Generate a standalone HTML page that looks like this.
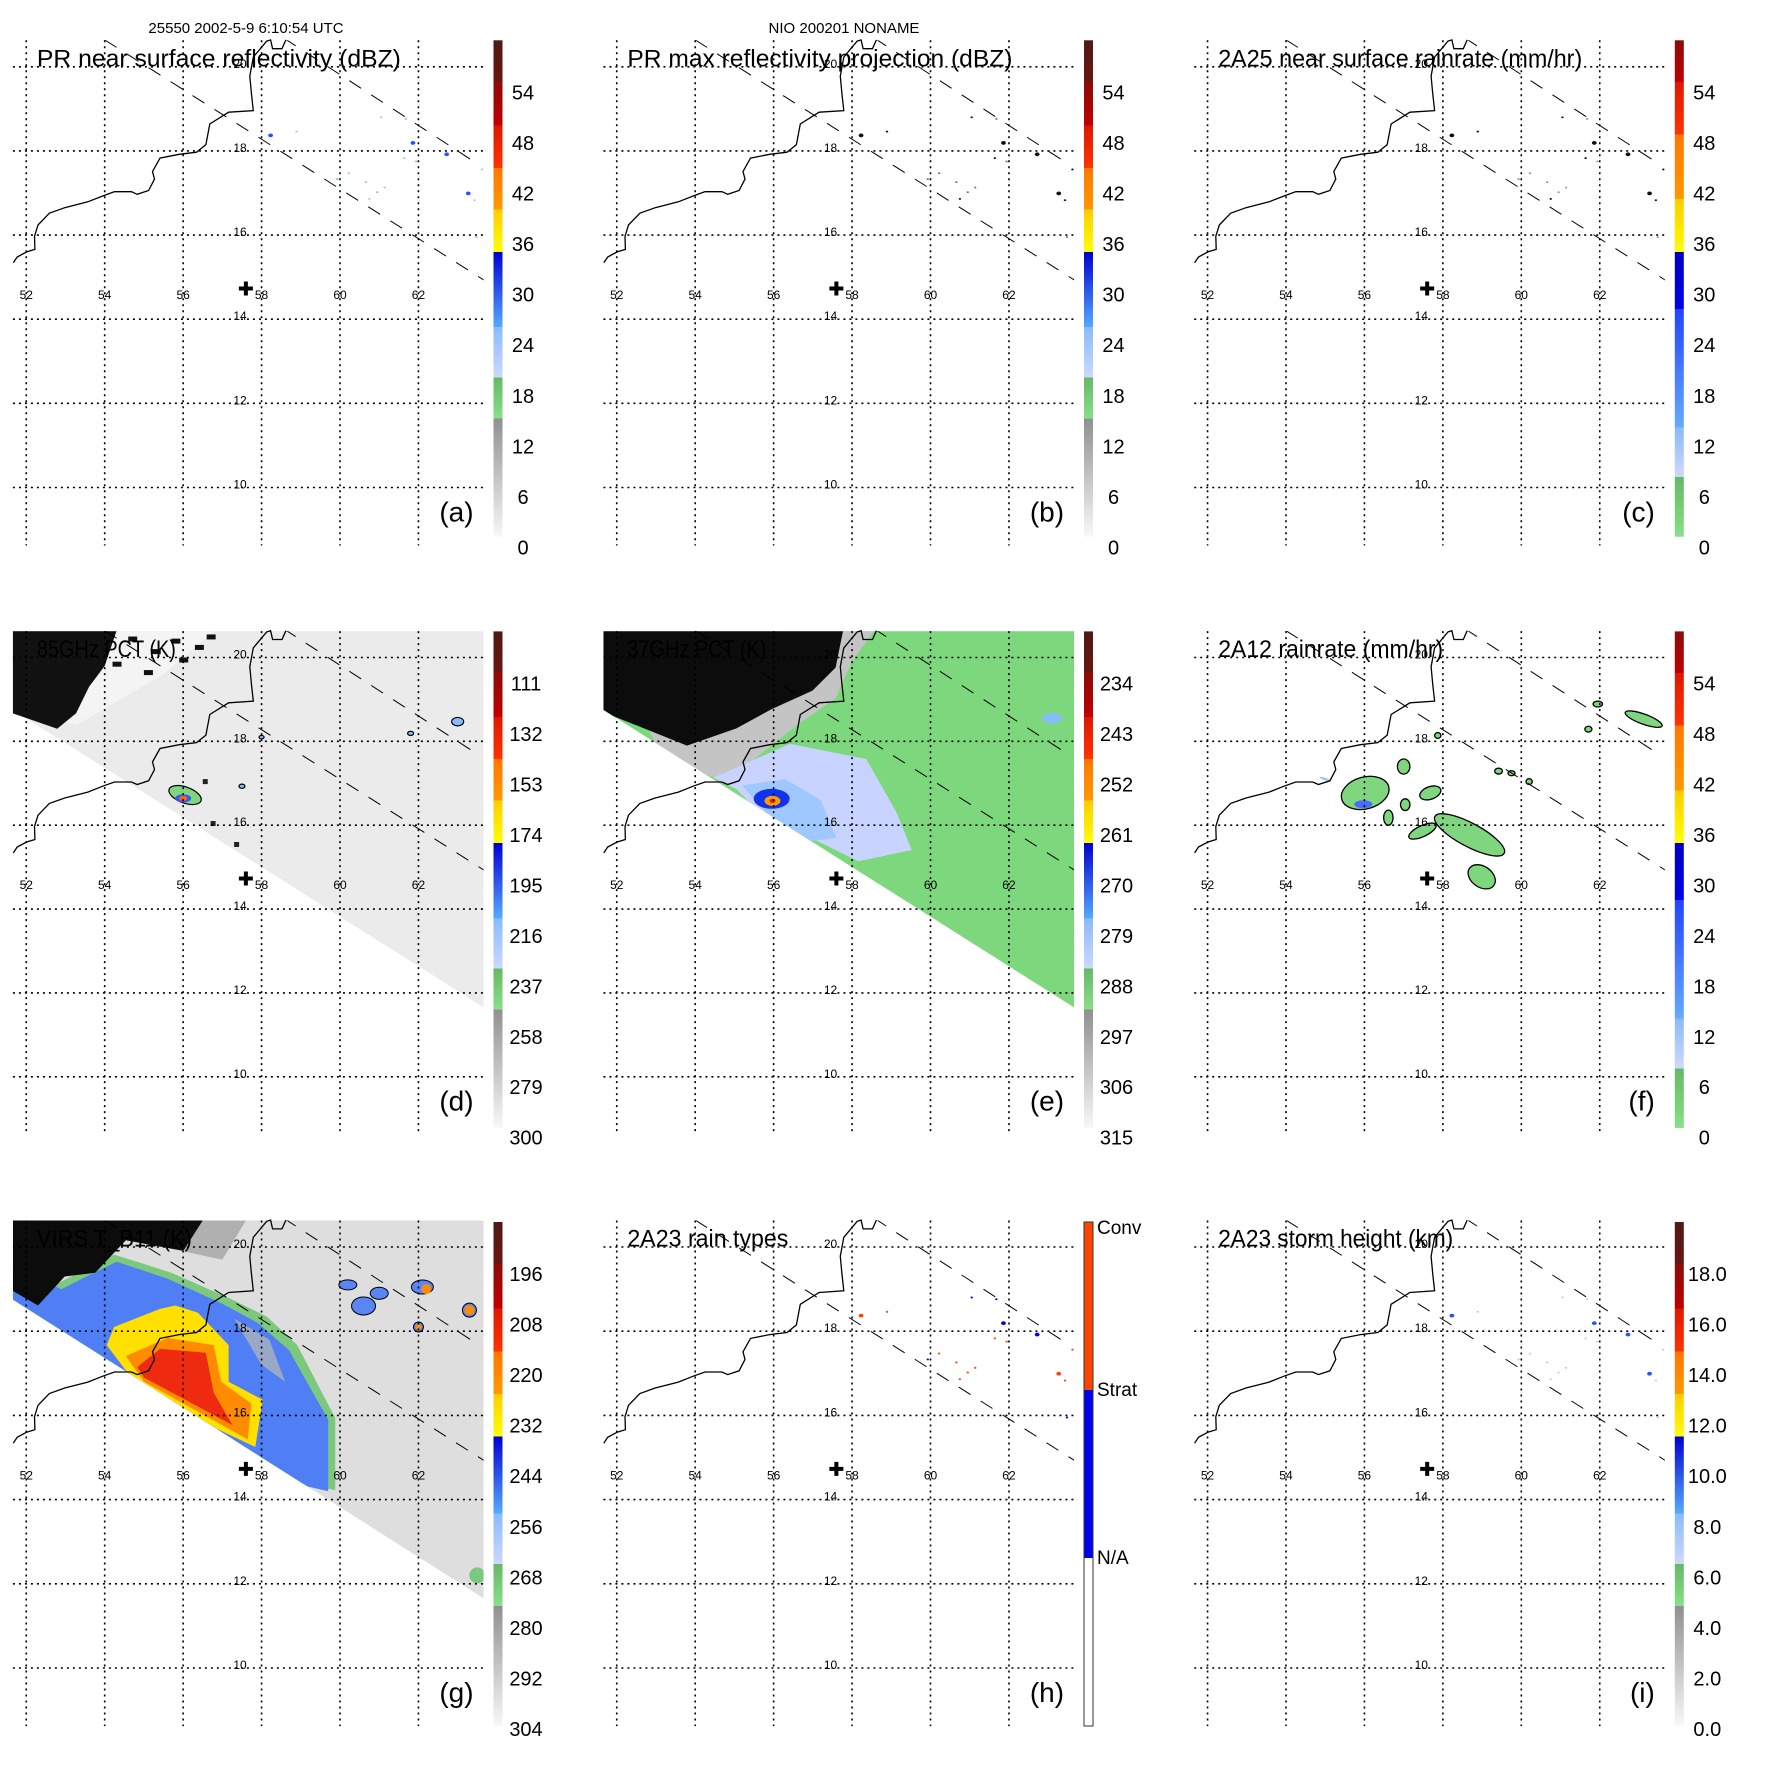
<!DOCTYPE html>
<html><head><meta charset="utf-8">
<style>html,body{margin:0;padding:0;background:#fff}svg{display:block}text{font-family:"Liberation Sans",sans-serif;fill:#000}</style>
</head><body>
<svg id="fig" width="1771" height="1771" viewBox="0 0 1771 1771" xmlns="http://www.w3.org/2000/svg">
<text x="246" y="33" font-size="15" text-anchor="middle">25550 2002-5-9 6:10:54 UTC</text>
<text x="844" y="33" font-size="15" text-anchor="middle">NIO 200201 NONAME</text>
</svg>
<script>
const NS="http://www.w3.org/2000/svg";
const panelIds=["a","b","c","d","e","f","g","h","i"];
const panelTitles=["PR near surface reflectivity (dBZ)","PR max reflectivity projection (dBZ)","2A25 near surface rainrate (mm/hr)","85GHz PCT (K)","37GHz PCT (K)","2A12 rainrate (mm/hr)","VIRS T_B11 (K)","2A23 rain types","2A23 storm height (km)"];
const ticksA=["0","6","12","18","24","30","36","42","48","54"];
const ticksC=["0","6","12","18","24","30","36","42","48","54"];
const ticksD=["300","279","258","237","216","195","174","153","132","111"];
const ticksE=["315","306","297","288","279","270","261","252","243","234"];
const ticksF=["0","6","12","18","24","30","36","42","48","54"];
const ticksG=["304","292","280","268","256","244","232","220","208","196"];
const ticksI=["0.0","2.0","4.0","6.0","8.0","10.0","12.0","14.0","16.0","18.0"];
const rainTypes=["N/A","Strat","Conv"];
const lonTicks=[52,54,56,58,60,62];
const latTicks=[10,12,14,16,18,20];
const coastLon=[51.67,51.77,52.01,52.22,52.21,52.30,52.59,52.98,53.57,53.95,54.25,54.68,54.83,55.12,55.27,55.22,55.41,55.90,56.34,56.58,56.68,57.16,57.79,57.74,57.70,57.79,58.13,58.23,58.28,58.52,58.62];
const coastLat=[15.34,15.48,15.60,15.66,15.97,16.24,16.52,16.65,16.79,16.93,17.03,17.03,16.97,17.06,17.33,17.51,17.83,17.92,17.97,18.15,18.64,18.92,18.96,19.37,19.78,20.23,20.61,20.64,20.43,20.43,20.64];
// PR echo points (lon, lat)
const echoLon=[58.23,58.89,61.05,61.86,62.72,61.64,63.62,59.93,60.22,60.66,60.95,61.14,60.75,63.27,63.43,63.48,61.68,61.94];
const echoLat=[18.37,18.46,18.80,18.19,17.92,17.83,17.56,17.33,17.47,17.26,17.02,17.13,16.86,16.99,16.83,15.95,18.76,17.75];
const echoDbz=[28,24,22,30,28,24,22,17,21,20,18,21,22,28,24,17,18,17];
const echoType=[2,2,1,1,1,2,2,1,2,2,2,2,2,2,2,1,1,2];
// 2A12 rain cells: lon, lat, rx(deg), ry(deg), rotation
const cellLon=[56.02,57.00,56.61,57.04,57.68,57.48,58.68,58.99,63.12,61.95,61.71,59.42,59.75,60.20,57.87,55.0];
const cellLat=[16.77,17.40,16.18,16.49,16.77,15.86,15.77,14.77,18.53,18.89,18.29,17.29,17.24,17.04,18.14,17.10];
const cellRx=[0.62,0.16,0.12,0.12,0.28,0.38,1.0,0.38,0.5,0.12,0.09,0.1,0.09,0.08,0.08,0.15];
const cellRy=[0.38,0.18,0.18,0.14,0.15,0.13,0.28,0.25,0.12,0.07,0.07,0.07,0.06,0.07,0.07,0.03];
const cellRot=[-15,0,0,0,-20,-25,28,35,20,0,0,0,0,0,0,20];
const cellRain=[2,2,2,2,2,2,2,2,2,2,2,2,2,2,2,10];
const bandStd=[0,0.238,0.321,0.422,0.574,0.659,0.743,0.828,0.917,1.0];
const bandRain=[0,0.12,0.22,0.459,0.574,0.68,0.81,0.916,1.0];
const colStd=[["#f8f8f8","#909090"],["#88e088","#66b866"],["#cdd8ff","#88bbff"],["#55aaff","#0000d0"],["#ffff00","#ffcc00"],["#ff9900","#ff7700"],["#ff3300","#dd1800"],["#c00000","#8a0c08"],["#6a1510","#4e1a14"]];
const colRain=[["#88e088","#66b866"],["#d0d8ff","#88bbff"],["#66aaff","#2244ff"],["#0000ee","#0000c0"],["#ffff00","#ffcc00"],["#ff9900","#ff7700"],["#ff3300","#dd1800"],["#c00000","#8a0c08"],["#6a1510","#4e1a14"]];

const svg=document.getElementById("fig");
const colX=[0,590.5,1181.3];
const rowLat20=[66.8,657.5,1247], rowSp=[42.07,41.93,42.1];
const rowCbTop=[40.3,631.4,1222], rowCbBot=[536.7,1127.9,1726];
const rowLab0=[547.5,1137.7,1729], rowLabTop=[92.4,683.5,1274];
function el(tag,attrs,parent){const e=document.createElementNS(NS,tag);for(const k in attrs)e.setAttribute(k,attrs[k]);(parent||svg).appendChild(e);return e;}
function proj(col,row){return{x:lon=>colX[col]+26.25+(lon-52)*39.22,y:lat=>rowLat20[row]+(20-lat)*rowSp[row]};}
function poly(P,lons,lats){return lons.map((l,i)=>P.x(l).toFixed(1)+","+P.y(lats[i]).toFixed(1)).join(" ");}

function drawPanel(idx){
  const col=idx%3,row=Math.floor(idx/3),P=proj(col,row),id=panelIds[idx];
  const g=el("g",{});
  
  
  const x0=P.x(51.66),x1=P.x(63.66),y0=P.y(20.63),y1=P.y(8.62);
  const cp=el("clipPath",{id:"clip"+id},g);
  el("rect",{x:x0,y:y0,width:x1-x0,height:y1-y0},cp);
  const field=el("g",{"clip-path":"url(#clip"+id+")"},g);
  
  
  const swath=poly(P,[51.66,63.67,63.67,51.66],[18.75,11.65,20.63,20.63]);
  const sw=el("clipPath",{id:"sw"+id},g);el("polygon",{points:swath},sw);
  if(id==="d"){
    el("polygon",{points:swath,fill:"#ebebeb"},field);
    el("polygon",{points:poly(P,[51.66,56.8,55.5,53.3,51.66],[20.63,20.63,19.6,18.4,18.75]),fill:"#f4f4f4"},field);
    el("polygon",{points:poly(P,[51.65,54.3,54.0,53.6,53.27,52.79,51.65],[20.63,20.63,19.8,19.30,18.67,18.3,18.67]),fill:"#111"},field);
    [[54.6,20.5],[55.2,20.2],[55.7,20.45],[56.3,20.3],[54.2,19.9],[55.0,19.7],[56.6,20.55],[55.9,20.0]].forEach(p=>el("rect",{x:P.x(p[0]),y:P.y(p[1]),width:9,height:5,fill:"#111"},field));
    el("ellipse",{cx:P.x(56.05),cy:P.y(16.72),rx:17,ry:8,fill:"#7fd67f",stroke:"#000","stroke-width":1.2,transform:`rotate(20 ${P.x(56.05)} ${P.y(16.72)})`},field);
    el("ellipse",{cx:P.x(56.0),cy:P.y(16.64),rx:8,ry:4,fill:"#3355ff"},field);
    el("ellipse",{cx:P.x(56.0),cy:P.y(16.64),rx:4,ry:2.5,fill:"#ff6600"},field);
    [[63.0,18.47,6],[61.8,18.19,3],[57.5,16.93,3],[58.0,18.1,2.5]].forEach(p=>el("ellipse",{cx:P.x(p[0]),cy:P.y(p[1]),rx:p[2],ry:p[2]*0.7,fill:"#88bbff",stroke:"#000","stroke-width":1.2},field));
    [[56.5,17.1],[56.7,16.1],[57.3,15.6]].forEach(p=>el("rect",{x:P.x(p[0]),y:P.y(p[1]),width:5,height:5,fill:"#222"},field));
  }
  if(id==="e"){
    el("polygon",{points:swath,fill:"#7dd87d"},field);
    const f2=el("g",{"clip-path":"url(#sw"+id+")"},field);
    el("polygon",{points:poly(P,[51.65,58.55,57.97,57.58,56.61,55.63,54.86,53.2],[20.63,20.63,19.85,19.03,18.40,17.67,17.04,17.5]),fill:"#c4c4c4"},f2);
    el("polygon",{points:poly(P,[51.65,57.77,57.58,56.99,55.93,55.05,53.79,51.65],[20.63,20.63,19.76,19.21,18.76,18.31,17.90,18.70]),fill:"#0c0c0c"},f2);
    el("polygon",{points:poly(P,[54.47,56.41,58.36,59.13,59.52,58.16,56.99,55.63,55.05],[17.13,17.94,17.58,16.31,15.41,15.14,15.68,16.31,16.86]),fill:"#c8d4ff"},f2);
    el("polygon",{points:poly(P,[55.2,56.3,57.2,57.6,56.8,55.8],[16.95,17.1,16.6,15.7,15.6,16.3]),fill:"#9ec8ff"},f2);
    el("ellipse",{cx:P.x(55.95),cy:P.y(16.63),rx:18,ry:10,fill:"#1133ee"},f2);
    el("ellipse",{cx:P.x(55.97),cy:P.y(16.58),rx:8,ry:5,fill:"#ff9900"},f2);
    el("ellipse",{cx:P.x(55.97),cy:P.y(16.58),rx:3,ry:2,fill:"#dd2200"},f2);
    el("ellipse",{cx:P.x(63.1),cy:P.y(18.55),rx:10,ry:5,fill:"#88bbff"},f2);
  }
  if(id==="g"){
    el("polygon",{points:swath,fill:"#dedede"},field);
    const f2=el("g",{"clip-path":"url(#sw"+id+")"},field);
    el("polygon",{points:poly(P,[51.65,52.79,54.24,55.70,57.16,58.13,58.91,59.49,59.88,59.88,56.0,51.65],[19.6,19.13,19.82,19.39,18.79,18.35,17.67,16.63,15.94,14.22,15.0,18.0]),fill:"#7cc87c"},f2);
    el("polygon",{points:poly(P,[51.65,52.9,54.3,55.6,57.0,57.9,58.7,59.3,59.7,59.7,56.0,51.65],[19.5,19.0,19.65,19.25,18.65,18.2,17.55,16.55,15.9,14.2,15.0,18.0]),fill:"#4f7ef5"},f2);
    el("polygon",{points:poly(P,[57.3,58.2,58.6,58.0],[18.3,17.8,16.8,17.2]),fill:"#9aa8c8"},f2);
    el("polygon",{points:poly(P,[54.05,54.24,55.41,55.80,56.38,57.16,57.16,58.03,57.84,55.0],[17.67,18.10,18.53,18.61,18.44,17.67,16.80,16.37,15.25,16.5]),fill:"#ffe000"},f2);
    el("polygon",{points:poly(P,[54.54,55.61,56.78,56.97,57.74,57.65,55.0],[17.41,17.84,17.67,16.80,16.28,15.43,16.8]),fill:"#ff8c00"},f2);
    el("polygon",{points:poly(P,[54.83,55.41,56.58,56.78,57.26,55.0],[17.15,17.58,17.49,16.54,15.77,16.9]),fill:"#ee2a10"},f2);
    el("polygon",{points:poly(P,[51.65,56.97,55.99,54.54,53.76,52.98,52.30,51.65],[20.63,20.63,19.91,20.16,19.39,19.30,18.61,18.96]),fill:"#0c0c0c"},f2);
    el("polygon",{points:poly(P,[56.5,57.6,57.0,56.0],[20.63,20.63,19.7,19.9]),fill:"#b0b0b0"},f2);
    [[60.6,18.6,12,9],[61.0,18.9,9,6],[60.2,19.1,9,5],[62.1,19.05,11,7],[63.3,18.5,7,7],[62.0,18.1,5,5]].forEach(p=>{
      el("ellipse",{cx:P.x(p[0]),cy:P.y(p[1]),rx:p[2],ry:p[3],fill:"#5a86f5",stroke:"#000","stroke-width":1},f2);});
    [[62.2,19.0,5,5],[63.3,18.5,5,5],[62.0,18.1,3,3]].forEach(p=>el("ellipse",{cx:P.x(p[0]),cy:P.y(p[1]),rx:p[2],ry:p[3],fill:"#ff8c00"},f2));
    el("ellipse",{cx:P.x(63.5),cy:P.y(12.2),rx:8,ry:8,fill:"#7cc87c"},f2);
  }
  lonTicks.forEach(l=>{const v=el("line",{x1:P.x(l),x2:P.x(l),y1:y0,y2:y1,stroke:"#000","stroke-width":1.6,"stroke-dasharray":"2,4"},g);
    });
  latTicks.forEach(l=>{const h=el("line",{x1:x0,x2:x1,y1:P.y(l),y2:P.y(l),stroke:"#000","stroke-width":1.6,"stroke-dasharray":"2,4"},g);
    });
  const sl=el("g",{"clip-path":"url(#clip"+id+")"},g);
  el("line",{x1:P.x(54.0),y1:P.y(20.64),x2:P.x(63.67),y2:P.y(14.93),stroke:"#000","stroke-width":1,"stroke-dasharray":"14,12"},sl);
  el("line",{x1:P.x(58.57),y1:P.y(20.68),x2:P.x(63.43),y2:P.y(17.74),stroke:"#000","stroke-width":1,"stroke-dasharray":"14,12"},sl);
  
  if("abchi".includes(id)){
    echoLon.forEach((l,i)=>{
      let c;
      if(id==="a") c=echoDbz[i]>=27?"#2255ff":echoDbz[i]>=20?"#99c4ff":"#77d877";
      else if(id==="b") c=echoDbz[i]>=22?"#111":"#778";
      else if(id==="c") c=echoDbz[i]>=22?"#111":"#999";
      else if(id==="h") c=echoType[i]===2?"#ff4400":"#0000ee";
      else c=echoDbz[i]>=27?"#2255ff":"#cccccc";
      const r=echoDbz[i]>=28?2.4:1.2;
      const d=el("ellipse",{cx:P.x(l),cy:P.y(echoLat[i]),rx:r,ry:r*0.8,fill:c},field);
      
    });
  }
  if(id==="f"){
    cellLon.forEach((l,i)=>{
      const cx=P.x(l),cy=P.y(cellLat[i]);
      const c=el("ellipse",{cx:cx,cy:cy,rx:cellRx[i]*39.22,ry:cellRy[i]*rowSp[row],fill:cellRain[i]>5?"#99c4ff":"#7fd67f",stroke:cellRain[i]>5?"none":"#000","stroke-width":1.3,transform:`rotate(${cellRot[i]} ${cx} ${cy})`},field);
      
    });
    el("ellipse",{cx:P.x(55.97),cy:P.y(16.5),rx:9,ry:4,fill:"#4a6cff"},field);
  }
  const cl=el("polyline",{points:poly(P,coastLon,coastLat),fill:"none",stroke:"#000","stroke-width":1.3},g);
  
  lonTicks.forEach(l=>{const t=el("text",{x:P.x(l),y:P.y(14.6)+5,"font-size":12,"text-anchor":"middle"},g);t.textContent=l;
    });
  latTicks.forEach(l=>{const t=el("text",{x:P.x(57.45),y:P.y(l)+1,"font-size":12,"text-anchor":"middle"},g);t.textContent=l;
    });
  const mx=P.x(57.6),my=P.y(14.73);
  const m=el("path",{d:`M${mx-7} ${my}H${mx+7}M${mx} ${my-7}V${my+7}`,stroke:"#000","stroke-width":4},g);
  
  const tt=el("text",{x:x0+24,y:y0+26,"font-size":24},g);
  
  tt.setAttribute("textLength",idx===6?(155):Math.round(panelTitles[idx].length*10.7));
  tt.setAttribute("lengthAdjust","spacingAndGlyphs");
  tt.textContent=panelTitles[idx];
  const pl=el("text",{x:x1-10,y:y1-24,"font-size":28,"text-anchor":"end"},g);pl.textContent="("+id+")";
  
  const cbx=colX[col]+493.5,cbw=9,ct=rowCbTop[row],cb=rowCbBot[row],H=cb-ct;
  const cbg=el("g",{},g);
  
  if(id==="h"){
    const hx=cbx,hy0=ct,hy1=cb;
    el("rect",{x:hx,y:hy0+(hy1-hy0)*2/3,width:9,height:(hy1-hy0)/3,fill:"#fff"},cbg);
    el("rect",{x:hx,y:hy0+(hy1-hy0)/3,width:9,height:(hy1-hy0)/3,fill:"#0000ee"},cbg);
    el("rect",{x:hx,y:hy0,width:9,height:(hy1-hy0)/3,fill:"#ff4400"},cbg);
    el("rect",{x:hx,y:hy0,width:9,height:hy1-hy0,fill:"none",stroke:"#333","stroke-width":1},cbg);
    rainTypes.forEach((s,i)=>{const t=el("text",{x:hx+13,y:hy0+(hy1-hy0)*(2-i)/3+(i===2?12:6),"font-size":19},cbg);t.textContent=s;
      });
  } else {
    const bands=(id==="c"||id==="f")?bandRain:bandStd, cols=(id==="c"||id==="f")?colRain:colStd;
    const gid="grad"+id;const lg=el("linearGradient",{id:gid,x1:0,y1:1,x2:0,y2:0},cbg);
    cols.forEach((c,i)=>{el("stop",{offset:bands[i],"stop-color":c[0]},lg);el("stop",{offset:bands[i+1],"stop-color":c[1]},lg);});
    el("rect",{x:cbx,y:ct,width:cbw,height:H,fill:`url(#${gid})`},cbg);
    const ticks={a:ticksA,b:ticksA,c:ticksC,d:ticksD,e:ticksE,f:ticksF,g:ticksG,i:ticksI}[id];
    const step=(rowLab0[row]-rowLabTop[row])/(ticks.length-1);
    ticks.forEach((s,i)=>{const yy=rowLab0[row]-i*step;
      const t=el("text",{x:colX[col]+523+(s.length>2?3:0),y:yy+7,"font-size":20,"text-anchor":"middle"},cbg);t.textContent=s;
      });
  }
}
for(let i=0;i<9;i++)drawPanel(i);
</script>
</body></html>
